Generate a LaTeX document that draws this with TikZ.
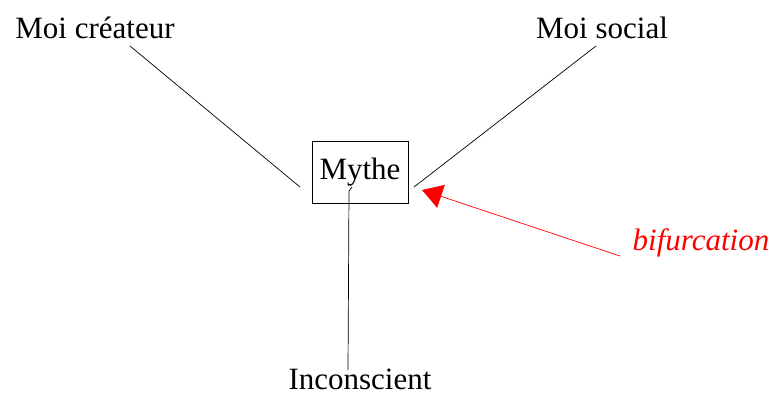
\documentclass[tikz,border=0pt]{standalone}
\usepackage{fontspec}
\setmainfont{Liberation Serif}
\usetikzlibrary{arrows.meta}
\begin{document}
\begin{tikzpicture}[x=1pt,y=-1pt,
  lbl/.style={inner sep=0pt,font=\fontsize{31}{36}\selectfont},
  boxnode/.style={draw,line width=0.8pt,minimum width=96pt,minimum height=62pt,inner sep=0pt,font=\fontsize{31}{36}\selectfont},
  link/.style={line width=0.7pt},
  redlink/.style={red,line width=0.7pt,-{Triangle[length=20pt,width=24pt]}}]
\useasboundingbox (0,0) rectangle (773,397);
\node[boxnode] (mythe) at (360,172) {Mythe};
\node[lbl] (createur) at (95,28) {Moi créateur};
\node[lbl] (social) at (602,28) {Moi social};
\node[lbl] (incons) at (360,379) {Inconscient};
\node[lbl,red,font=\fontsize{31}{36}\selectfont\itshape] (bif) at (701,243) {bifurcation};
\coordinate (c1) at (130,46);
\coordinate (c2) at (300,187);
\coordinate (s1) at (596,46);
\coordinate (s2) at (414,187);
\coordinate (i1) at (348,370);
\coordinate (i2) at (349,191);
\coordinate (i3) at (352,187);
\coordinate (b1) at (620,256);
\coordinate (b2) at (422,190);
\draw[link] (c1) -- (c2);
\draw[link] (s1) -- (s2);
\draw[link] (i1) -- (i2) -- (i3);
\draw[redlink] (b1) -- (b2);
\end{tikzpicture}
\end{document}
